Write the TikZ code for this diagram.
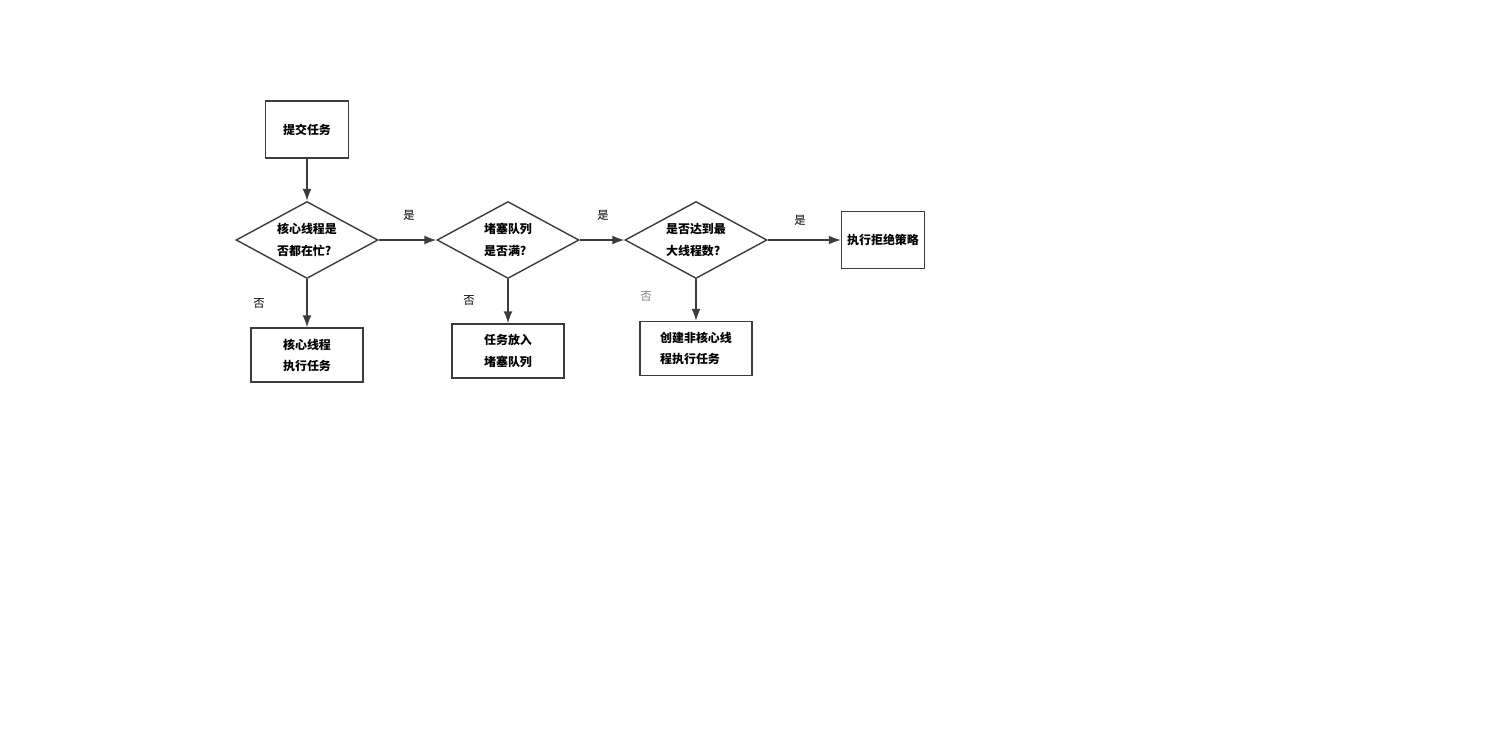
\documentclass[tikz,border=0pt]{standalone}
\usepackage{fontspec}
\setmainfont{Noto Sans CJK SC}
\newfontfamily\cjk{Noto Sans CJK SC}
\usetikzlibrary{shapes.geometric,arrows.meta}
\definecolor{linegray}{RGB}{60,60,60}

\tikzset{
  taskbox/.style={draw=linegray,line width=0.8pt,minimum width=2.24cm,minimum height=1.08cm,
    align=left,inner sep=0pt,font=\cjk\bfseries\fontsize{6.8}{12}\selectfont},
  smallbox/.style={taskbox,minimum width=1.66cm,minimum height=1.14cm},
  decision/.style={draw=linegray,line width=0.8pt,diamond,aspect=1.84,minimum width=2.84cm,
    minimum height=1.54cm,inner sep=0pt,align=left,font=\cjk\bfseries\fontsize{6.8}{12.5}\selectfont},
  flow/.style={draw=linegray,line width=0.8pt,-{Latex[length=0.24cm,width=0.18cm]}},
  answer/.style={font=\cjk\fontsize{6.5}{8}\selectfont}
}

\begin{document}
\begin{tikzpicture}[x=0.02cm,y=-0.02cm]

\useasboundingbox (0,0) rectangle (1500,731);

% boxes
\node[smallbox] (submit) at (307,129.5) {提交任务};
\node[taskbox] (core) at (307,355) {核心线程\\执行任务};
\node[taskbox] (queue) at (508,351) {任务放入\\堵塞队列};
\node[taskbox] (extra) at (696,348.5) {创建非核心线\\程执行任务};
\node[smallbox] (reject) at (883,240) {执行拒绝策略};

% decisions
\node[decision] (busy) at (307,240) {核心线程是\\否都在忙?};
\node[decision] (full) at (508,240) {堵塞队列\\是否满?};
\node[decision] (max) at (696,240) {是否达到最\\大线程数?};

% connectors
\draw[flow] (submit) -- (busy);
\draw[flow] (busy.east) -- (full.west);
\draw[flow] (full.east) -- (max.west);
\draw[flow] (max.east) -- (reject.west);
\draw[flow] (busy.south) -- (core.north);
\draw[flow] (full.south) -- (queue.north);
\draw[flow] (max.south) -- (extra.north);

% labels
\node[answer] (yes1) at (409,215) {是};
\node[answer] (yes2) at (603,215) {是};
\node[answer] (yes3) at (800,220) {是};
\node[answer] (no1) at (259,303) {否};
\node[answer] (no2) at (469,300) {否};
\node[answer,text=gray] (no3) at (646,296) {否};

\end{tikzpicture}
\end{document}
